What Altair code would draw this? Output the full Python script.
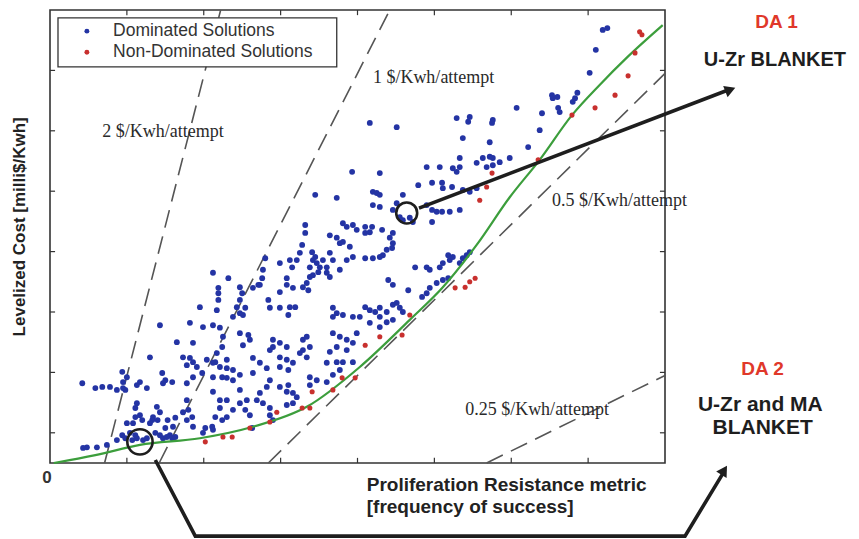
import altair as alt
import pandas as pd

# ---------------- data (axis units: x 0..8, y 0..7.5) ----------------
dominated_x = [
    3.93, 3.45, 3.73, 3.32, 3.32, 3.81, 3.86, 3.94, 3.99, 3.64, 3.73, 3.77, 3.81, 3.90, 3.28, 3.25, 3.21,
    3.41, 3.45, 3.42, 3.47, 3.51, 3.38, 3.55, 3.64, 3.68, 3.60, 3.77, 3.86, 3.94, 3.12, 3.15, 3.08, 2.99,
    2.80, 2.77, 2.76, 2.73, 2.12, 2.32, 2.19, 2.19, 2.19, 1.95, 2.47, 2.50, 2.47, 2.43, 2.47, 2.54, 2.64,
    2.71, 2.84, 2.86, 2.99, 3.08, 3.16, 3.29, 3.34, 3.38, 3.42, 3.36, 3.49, 3.60, 3.64, 2.99, 3.12, 3.19,
    3.10, 3.68, 3.73, 3.81, 3.68, 3.94, 2.17, 2.51, 2.38,
    1.43, 1.82, 1.99, 2.12, 1.65, 1.86, 2.21, 2.25, 2.24, 2.17, 2.15, 2.47, 2.58, 2.60, 2.51, 2.90, 2.99,
    3.08, 2.90, 2.86, 3.29, 3.34, 3.38, 3.29, 3.25, 3.34, 2.99, 3.08, 3.16, 2.99, 3.10, 2.64, 2.73, 2.82,
    2.64, 1.73, 1.82, 1.86, 1.78, 1.91, 2.04, 2.12, 2.21, 2.30, 2.38, 2.30, 2.47, 1.98, 1.86, 1.78, 2.12,
    2.24, 2.30, 2.38, 1.30, 0.94, 1.00, 0.95, 0.98, 1.46, 1.50, 1.59, 1.47, 1.17, 1.13, 1.26, 0.42, 0.59,
    0.68, 0.78, 0.87, 0.95, 3.68, 3.77, 3.86, 3.94, 3.73, 3.64, 3.86, 3.99, 3.60, 3.73, 3.81, 3.94, 3.38,
    3.47, 3.38, 2.86, 2.99, 3.08, 3.16, 3.21, 2.82, 2.73, 2.69, 2.77, 2.86, 3.10, 3.16, 3.08, 2.56, 2.47,
    2.54, 2.60, 2.30, 2.21, 2.30, 2.24, 2.38, 2.15, 2.11, 2.02, 1.78, 1.80, 1.73, 1.85, 1.86, 1.78, 1.63,
    1.53, 1.60, 1.50, 1.56, 1.63, 1.39, 1.43, 1.34, 1.33, 1.40, 1.30, 1.13, 1.11, 1.17, 1.11, 1.20, 1.08,
    1.00, 1.04, 1.11, 1.07, 1.13, 1.21, 1.26, 1.37, 1.43, 1.47, 1.52, 1.59, 0.87, 0.74, 0.61, 0.48, 0.43,
    0.94, 0.98, 2.12, 2.21, 2.47, 2.86, 2.90, 2.63, 2.12, 1.99, 3.77, 3.68, 3.60,
    4.29, 4.90, 5.07, 5.24, 5.29, 5.33, 5.55, 5.68, 5.76, 5.85, 4.79, 4.97, 5.10, 5.11, 5.23, 5.37, 5.46,
    5.55, 4.20, 4.25, 4.29, 4.59, 4.51, 4.46, 4.55, 4.59, 4.68, 4.72, 4.20, 4.29, 4.90, 4.97, 5.03, 5.10,
    5.20, 5.33, 4.97, 4.10, 4.19, 4.16, 4.10, 4.32, 4.46, 4.42, 4.46, 4.45, 4.38, 4.33, 4.10, 4.20, 4.29,
    4.75, 4.90, 4.94, 5.07, 5.11, 5.20, 5.18, 5.24, 5.37, 5.42, 5.46, 5.33, 4.40, 4.46, 4.66, 4.94, 5.03,
    5.11, 5.18, 4.84, 4.90, 4.10, 4.16, 4.23, 4.29, 4.38, 4.46, 4.51, 4.55, 4.59, 4.29, 4.03,
    4.16, 4.51, 5.29, 5.46, 5.44, 5.76, 5.75, 5.37, 5.72, 6.07, 6.40, 6.37, 6.22, 5.33, 5.63, 5.72, 5.76,
    5.98, 6.53, 6.54, 6.60, 6.61, 6.63, 6.86, 6.83, 6.80, 7.02, 7.10, 7.19, 7.25,
    4.16, 4.29, 4.38, 4.46,
]
dominated_y = [
    4.82, 4.44, 4.39, 3.94, 3.81, 3.97, 3.91, 3.94, 3.86, 3.77, 3.73, 3.64, 3.66, 3.58, 3.61, 3.48, 3.36,
    3.49, 3.41, 3.36, 3.31, 3.24, 3.24, 3.36, 3.48, 3.36, 3.24, 3.20, 3.36, 3.41, 3.36, 3.24, 3.06, 3.31,
    3.39, 3.20, 3.06, 2.95, 3.15, 3.06, 2.90, 2.81, 2.70, 2.58, 2.91, 2.81, 2.70, 2.58, 2.48, 2.57, 2.90,
    2.95, 2.70, 2.57, 2.83, 2.95, 2.90, 2.91, 2.98, 3.08, 3.11, 2.86, 3.16, 3.15, 3.08, 2.57, 2.58, 2.58,
    2.45, 2.57, 2.48, 2.45, 2.42, 2.42, 2.53, 2.45, 2.42,
    2.28, 2.32, 2.25, 2.28, 2.00, 1.99, 2.24, 2.09, 1.92, 1.82, 1.67, 2.15, 2.12, 2.04, 1.95, 2.04, 1.99,
    1.92, 1.92, 1.87, 2.04, 2.09, 1.92, 1.87, 1.82, 1.75, 1.75, 1.71, 1.66, 1.59, 1.54, 1.74, 1.66, 1.57,
    1.49, 1.75, 1.74, 1.67, 1.62, 1.59, 1.71, 1.66, 1.59, 1.57, 1.54, 1.71, 1.46, 1.49, 1.42, 1.32, 1.42,
    1.42, 1.41, 1.37, 1.75, 1.51, 1.42, 1.34, 1.21, 1.49, 1.37, 1.34, 1.32, 1.34, 1.29, 1.24, 1.32, 1.24,
    1.26, 1.26, 1.21, 1.24, 2.15, 2.09, 2.04, 1.99, 1.92, 1.84, 1.87, 2.15, 1.66, 1.67, 1.67, 1.67, 1.42,
    1.37, 1.29, 1.37, 1.26, 1.18, 1.16, 1.09, 1.26, 1.16, 1.04, 0.99, 0.91, 1.29, 0.99, 0.96, 1.04, 0.99,
    0.88, 0.79, 1.04, 0.91, 0.76, 0.71, 0.88, 0.76, 0.60, 0.58, 1.04, 0.88, 0.84, 0.76, 0.60, 0.71, 0.75,
    0.71, 0.60, 0.58, 0.46, 0.43, 0.93, 0.84, 0.76, 0.71, 0.71, 0.66, 0.99, 0.91, 0.79, 0.76, 0.71, 0.66,
    0.66, 0.50, 0.46, 0.38, 0.41, 0.38, 0.41, 0.50, 0.46, 0.41, 0.43, 0.41, 0.38, 0.30, 0.26, 0.26, 0.25,
    0.46, 0.41, 1.18, 1.04, 1.21, 0.79, 0.71, 0.58, 0.55, 0.50, 1.54, 1.46, 1.34,
    4.80, 4.90, 4.90, 4.88, 4.82, 4.90, 4.97, 4.90, 4.93, 4.98, 4.60, 4.64, 4.64, 4.55, 4.57, 4.52, 4.49,
    4.55, 4.49, 4.47, 4.44, 4.44, 4.30, 4.19, 4.07, 4.02, 4.06, 3.99, 4.27, 4.24, 4.27, 4.19, 4.16, 4.16,
    4.16, 4.19, 3.99, 3.91, 3.91, 3.82, 3.81, 3.86, 3.81, 3.73, 3.64, 3.56, 3.53, 3.44, 3.39, 3.39, 3.41,
    3.24, 3.24, 3.20, 3.24, 3.31, 3.36, 3.44, 3.41, 3.39, 3.44, 3.49, 3.31, 3.03, 2.95, 2.86, 2.90, 2.98,
    3.03, 3.06, 2.75, 2.81, 2.58, 2.53, 2.50, 2.57, 2.50, 2.62, 2.65, 2.57, 2.50, 2.42, 2.42,
    5.63, 5.56, 5.71, 5.73, 5.65, 5.68, 5.63, 5.38, 5.31, 5.88, 5.79, 5.51, 5.23, 5.05, 5.05, 5.07, 5.05,
    5.05, 6.09, 6.04, 6.06, 5.88, 5.81, 6.13, 6.04, 5.98, 6.46, 6.84, 7.17, 7.20,
    2.32, 2.25, 2.33, 2.37,
]
nondominated_x = [2.02, 2.25, 2.37, 2.60, 2.86, 2.95, 3.28, 3.38, 3.41, 3.68, 3.80, 3.97, 4.10, 4.29, 4.58,
                  4.68, 5.27, 5.40, 5.46, 5.53, 5.59, 5.68, 5.75, 6.35, 6.79, 7.09, 7.35, 7.52, 7.61, 7.67, 7.70]
nondominated_y = [0.35, 0.43, 0.43, 0.58, 0.68, 0.84, 0.91, 0.91, 1.18, 1.21, 1.41, 1.41, 1.95, 2.09, 2.12,
                  2.45, 2.90, 2.91, 3.00, 3.06, 4.35, 4.57, 4.80, 5.02, 5.76, 5.88, 6.09, 6.41, 6.79, 7.14, 7.09]

front_x = [0.05, 0.59, 1.17, 1.95, 2.64, 3.34, 4.03, 4.68, 5.11, 5.55, 5.98, 6.37, 6.79, 7.15, 7.51, 7.97]
front_y = [0.00, 0.13, 0.30, 0.41, 0.60, 0.93, 1.59, 2.37, 2.91, 3.61, 4.40, 5.02, 5.76, 6.26, 6.72, 7.25]

iso_labels = ["2 $/Kwh/attempt", "1 $/Kwh/attempt", "0.5 $/Kwh/attempt", "0.25 $/Kwh/attempt"]
iso_x0 = [0.71, 1.42, 2.84, 5.68]
iso_y0 = [0.0, 0.0, 0.0, 0.0]
iso_x1 = [2.22, 4.42, 8.0, 8.0]
iso_y1 = [7.5, 7.5, 6.45, 1.45]
iso_label_x = [0.68, 4.20, 6.53, 5.40]
iso_label_y = [5.48, 6.37, 4.34, 0.88]

x_ticks = [1, 2, 3, 4, 5, 6, 7]
y_ticks = [0.5, 1.5, 2.5, 3.5, 4.5, 5.5, 6.5]

legend_labels = ["Dominated Solutions", "Non-Dominated Solutions"]

BLUE = "#2434a4"
RED = "#c8302e"
GREEN = "#3c9e3c"
INK = "#1e1e1e"

XS = alt.Scale(domain=[0, 8], nice=False, zero=False)
YS = alt.Scale(domain=[0, 7.5], nice=False, zero=False)


def X(f="x"):
    return alt.X(f"{f}:Q", scale=XS, axis=None)


def Y(f="y"):
    return alt.Y(f"{f}:Q", scale=YS, axis=None)


# ---------------- frame ticks (inward) ----------------
tick_rows = []
for t in x_ticks:
    tick_rows.append(dict(x=t, x2=t, y=0, y2=0.085))
    tick_rows.append(dict(x=t, x2=t, y=7.5, y2=7.415))
for t in y_ticks:
    tick_rows.append(dict(x=0, x2=0.066, y=t, y2=t))
    tick_rows.append(dict(x=8, x2=7.934, y=t, y2=t))
ticks = alt.Chart(pd.DataFrame(tick_rows)).mark_rule(color="#333", strokeWidth=1.2).encode(
    x=X(), x2="x2:Q", y=Y(), y2="y2:Q")

# ---------------- iso-cost dashed lines ----------------
iso_df = pd.DataFrame(dict(x=iso_x0, y=iso_y0, x2=iso_x1, y2=iso_y1))
iso = alt.Chart(iso_df).mark_rule(color="#555", strokeWidth=1.6, strokeDash=[18, 9]).encode(
    x=X(), x2="x2:Q", y=Y(), y2="y2:Q")
iso_txt = alt.Chart(pd.DataFrame(dict(x=iso_label_x, y=iso_label_y, t=iso_labels))).mark_text(
    align="left", baseline="middle", font="Liberation Serif", fontSize=18, color="#2a2a2a").encode(
    x=X(), y=Y(), text="t:N")

# ---------------- scatter ----------------
dom = alt.Chart(pd.DataFrame(dict(x=dominated_x, y=dominated_y))).mark_circle(
    color=BLUE, size=34, opacity=1).encode(x=X(), y=Y())
front = alt.Chart(pd.DataFrame(dict(x=front_x, y=front_y))).mark_line(
    color=GREEN, strokeWidth=2.2, interpolate="monotone").encode(x=X(), y=Y())
nondom = alt.Chart(pd.DataFrame(dict(x=nondominated_x, y=nondominated_y))).mark_circle(
    color=RED, size=26, opacity=1).encode(x=X(), y=Y())

# ---------------- legend box ----------------
leg_box = alt.Chart(pd.DataFrame(dict(x=[0.104], x2=[3.73], y=[7.37], y2=[6.56]))).mark_rect(
    fill="white", stroke="#333", strokeWidth=1.3).encode(x=X(), x2="x2:Q", y=Y(), y2="y2:Q")
leg_pts = alt.Chart(pd.DataFrame(dict(x=[0.48, 0.48], y=[7.15, 6.80], c=legend_labels))).mark_circle(
    size=24, opacity=1).encode(
    x=X(), y=Y(),
    color=alt.Color("c:N", scale=alt.Scale(domain=legend_labels, range=[BLUE, RED]), legend=None))
leg_txt = alt.Chart(pd.DataFrame(dict(x=[0.82, 0.82], y=[7.15, 6.80], t=legend_labels))).mark_text(
    align="left", baseline="middle", font="Liberation Sans", fontSize=17.5, color="#333").encode(
    x=X(), y=Y(), text="t:N")

# ---------------- annotations ----------------
circ = alt.Chart(pd.DataFrame(dict(x=[4.64, 1.17], y=[4.14, 0.35], s=[440, 640]))).mark_point(
    shape="circle", filled=False, color=INK, strokeWidth=2.6, opacity=1).encode(
    x=X(), y=Y(), size=alt.Size("s:Q", scale=None, legend=None))

arrow_df = pd.DataFrame(dict(
    x=[4.80, 8.83, 1.37, 1.89, 8.26, 8.75],
    y=[4.22, 6.18, 0.05, -1.21, -1.21, -0.18],
    g=["a", "a", "b", "b", "b", "b"],
    o=[0, 1, 0, 1, 2, 3]))
arrows = alt.Chart(arrow_df).mark_line(color=INK, strokeWidth=3.6, clip=False).encode(
    x=X(), y=Y(), detail="g:N", order="o:Q")
heads = alt.Chart(pd.DataFrame(dict(x=[8.85, 8.77], y=[6.18, -0.12], a=[69, 32]))).mark_point(
    shape="triangle-up", filled=True, color=INK, size=150, opacity=1).encode(
    x=X(), y=Y(), angle=alt.Angle("a:Q", scale=None))

labels_df = pd.DataFrame(dict(
    x=[9.45, 9.43, 9.27, 9.24, 9.27],
    y=[7.30, 6.67, 1.56, 0.96, 0.58],
    t=["DA 1", "U-Zr BLANKET", "DA 2", "U-Zr and MA", "BLANKET"],
    c=["#e0382a", INK, "#e0382a", INK, INK],
    s=[19, 20, 19, 21, 21]))
da_txt = alt.Chart(labels_df).mark_text(
    align="center", baseline="middle", font="Liberation Sans", fontWeight="bold").encode(
    x=X(), y=Y(), text="t:N", color=alt.Color("c:N", scale=None),
    size=alt.Size("s:Q", scale=None, legend=None))

xtitle = alt.Chart(pd.DataFrame(dict(
    x=[4.12, 4.12], y=[-0.36, -0.73],
    t=["Proliferation Resistance metric", "[frequency of success]"]))).mark_text(
    align="left", baseline="middle", font="Liberation Sans", fontSize=19, fontWeight="bold",
    color="#222").encode(x=X(), y=Y(), text="t:N")
ytitle = alt.Chart(pd.DataFrame(dict(x=[-0.395], y=[3.91], t=["Levelized Cost  [milli$/Kwh]"]))).mark_text(
    align="center", baseline="middle", font="Liberation Sans", fontSize=17, fontWeight="bold",
    color="#222", angle=270).encode(x=X(), y=Y(), text="t:N")
zero = alt.Chart(pd.DataFrame(dict(x=[-0.04], y=[-0.25], t=["0"]))).mark_text(
    align="center", baseline="middle", font="Liberation Sans", fontSize=17, fontWeight="bold",
    color="#333").encode(x=X(), y=Y(), text="t:N")

chart = alt.layer(
    ticks, iso, iso_txt, dom, front, nondom, leg_box, leg_pts, leg_txt,
    circ, arrows, heads, da_txt, xtitle, ytitle, zero,
).properties(
    width=615, height=453,
    padding={"left": 42, "top": 2, "right": 186, "bottom": 78},
    autosize=alt.AutoSizeParams(type="none"),
    background="white",
).configure_view(stroke="#333", strokeWidth=1.6)

chart.save("out.html", embed_options={"renderer": "svg", "actions": False})
